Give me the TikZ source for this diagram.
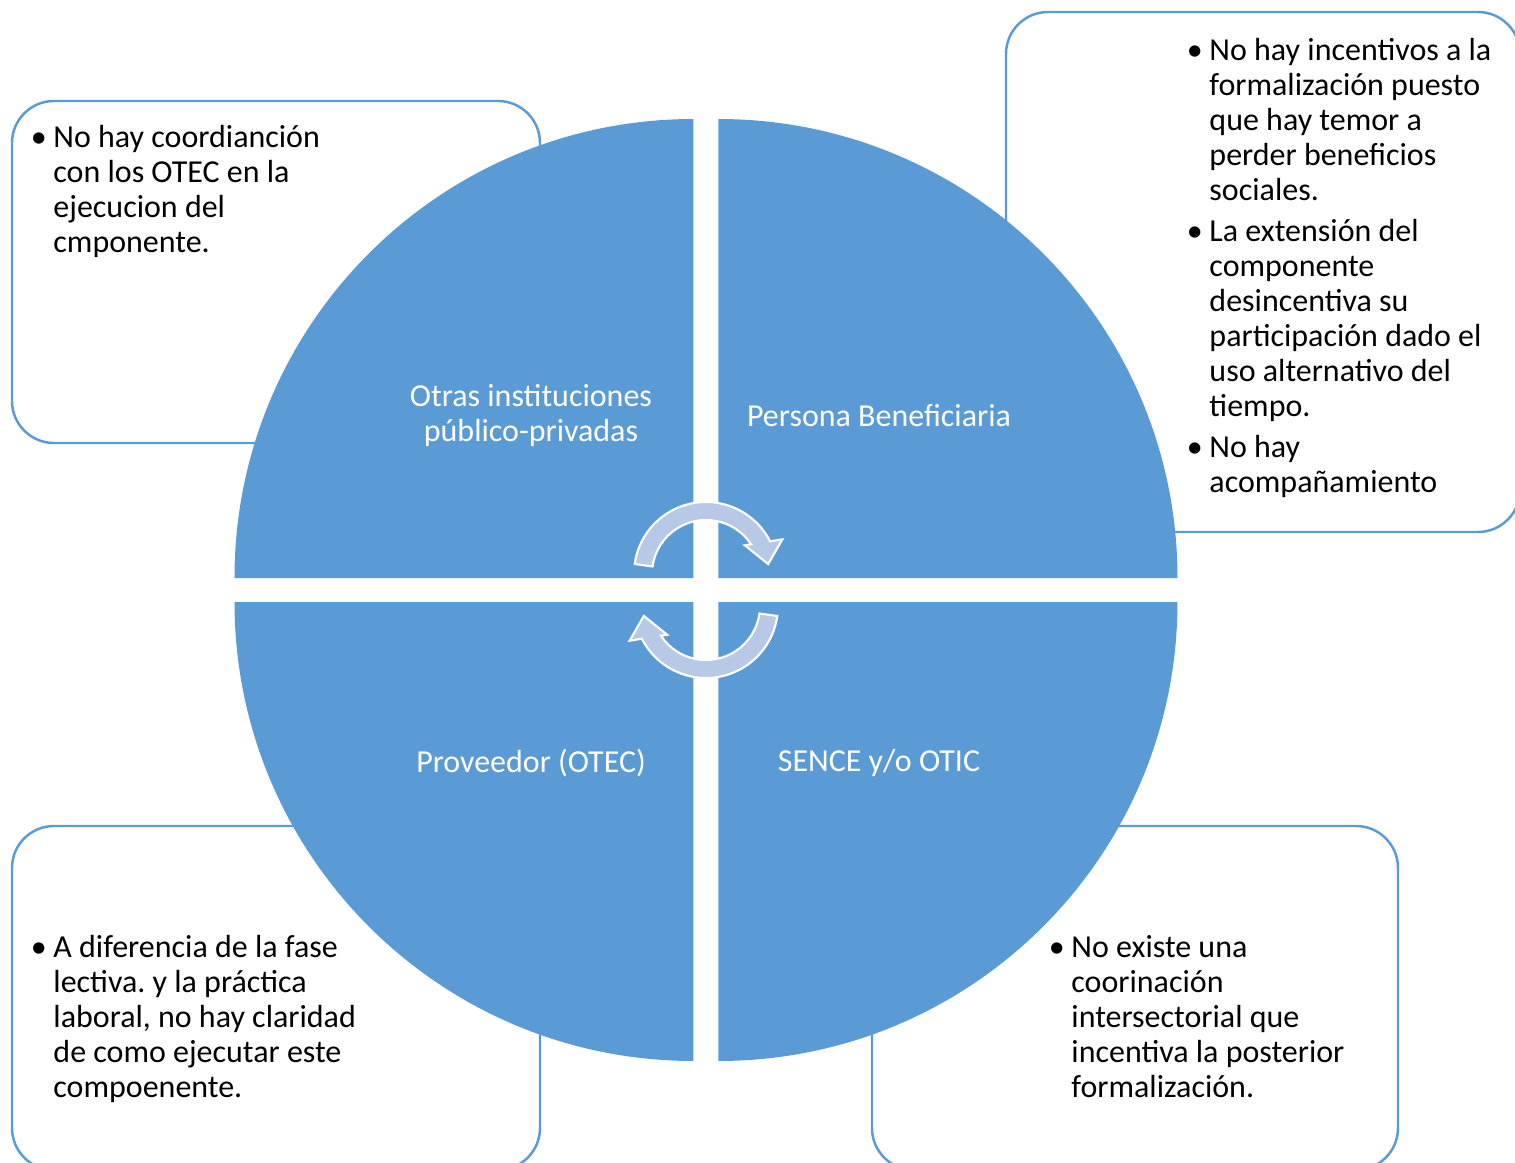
\documentclass[tikz,border=0pt]{standalone}
\usepackage{fontspec}
\setmainfont{Carlito}
\usetikzlibrary{positioning}
\definecolor{accent}{RGB}{91,155,213}
\definecolor{arrowblue}{RGB}{183,201,230}
\begin{document}
\begin{tikzpicture}[font=\fontsize{9.1}{9.96}\selectfont,
  note/.style = {draw=accent, line width=0.7pt, fill=white, rounded corners=0.42cm, inner sep=0},
  part/.style = {fill=accent},
  cyc/.style = {fill=arrowblue, draw=white, line width=0.6pt},
  label/.style = {text=white, align=center, inner sep=0},
  txt/.style = {inner sep=0}]
\useasboundingbox (-7.06,-5.73) rectangle (8.09,5.90);

\node[note, minimum width=5.28cm, minimum height=3.42cm] (nTL) at (-4.30,3.18) {};
\node[note, minimum width=5.14cm, minimum height=5.20cm] (nTR) at (5.57,3.18) {};
\node[note, minimum width=5.28cm, minimum height=3.44cm] (nBL) at (-4.30,-4.08) {};
\node[note, minimum width=5.26cm, minimum height=3.44cm] (nBR) at (4.29,-4.08) {};

\fill[part] (-0.125,0.12) -- ++(-4.59,0) arc (180:90:4.59) -- cycle;
\fill[part] (0.125,0.12) -- ++(0,4.59) arc (90:0:4.59) -- cycle;
\fill[part] (0.125,-0.12) -- ++(4.59,0) arc (0:-90:4.59) -- cycle;
\fill[part] (-0.125,-0.12) -- ++(0,-4.59) arc (270:180:4.59) -- cycle;

\begin{scope}[shift={(0,0.16)}]
\draw[cyc] (172:0.72) arc (172:27:0.72) -- (0.764,0.347) -- (0.622,0.099)
  -- (0.388,0.287) -- (33.4:0.54) arc (33.4:172:0.54) -- cycle;
\end{scope}
\begin{scope}[rotate=180, shift={(0,0.16)}]
\draw[cyc] (172:0.72) arc (172:27:0.72) -- (0.764,0.347) -- (0.622,0.099)
  -- (0.388,0.287) -- (33.4:0.54) arc (33.4:172:0.54) -- cycle;
\end{scope}

\node[label] (otras) at (-1.75,1.74) {Otras instituciones\\público-privadas};
\node[label] (persona) at (1.73,1.74) {Persona Beneficiaria};
\node[label] (otec) at (-1.75,-1.73) {Proveedor (OTEC)};
\node[label] (sence) at (1.73,-1.73) {SENCE y/o OTIC};

\node[txt, below right=0.225cm and 0.195cm of nTL.north west] (tTL) {\begin{tabular}{@{}p{0.225cm}@{}l@{}}
\textbullet & No hay coordianción\\
 & con los OTEC en la\\
 & ejecucion del\\
 & cmponente.
\end{tabular}};
\node[txt, below right=0.245cm and 1.815cm of nTR.north west] (tTR) {\begin{tabular}{@{}p{0.225cm}@{}l@{}}
\textbullet & No hay incentivos a la\\
 & formalización puesto\\
 & que hay temor a\\
 & perder beneficios\\
 & sociales.\\[0.06cm]
\textbullet & La extensión del\\
 & componente\\
 & desincentiva su\\
 & participación dado el\\
 & uso alternativo del\\
 & tiempo.\\[0.06cm]
\textbullet & No hay\\
 & acompañamiento
\end{tabular}};
\node[txt, below right=1.074cm and 0.195cm of nBL.north west] (tBL) {\begin{tabular}{@{}p{0.225cm}@{}l@{}}
\textbullet & A diferencia de la fase\\
 & lectiva.\ y la práctica\\
 & laboral, no hay claridad\\
 & de como ejecutar este\\
 & compoenente.
\end{tabular}};
\node[txt, below right=1.074cm and 1.775cm of nBR.north west] (tBR) {\begin{tabular}{@{}p{0.225cm}@{}l@{}}
\textbullet & No existe una\\
 & coorinación\\
 & intersectorial que\\
 & incentiva la posterior\\
 & formalización.
\end{tabular}};
\end{tikzpicture}
\end{document}
